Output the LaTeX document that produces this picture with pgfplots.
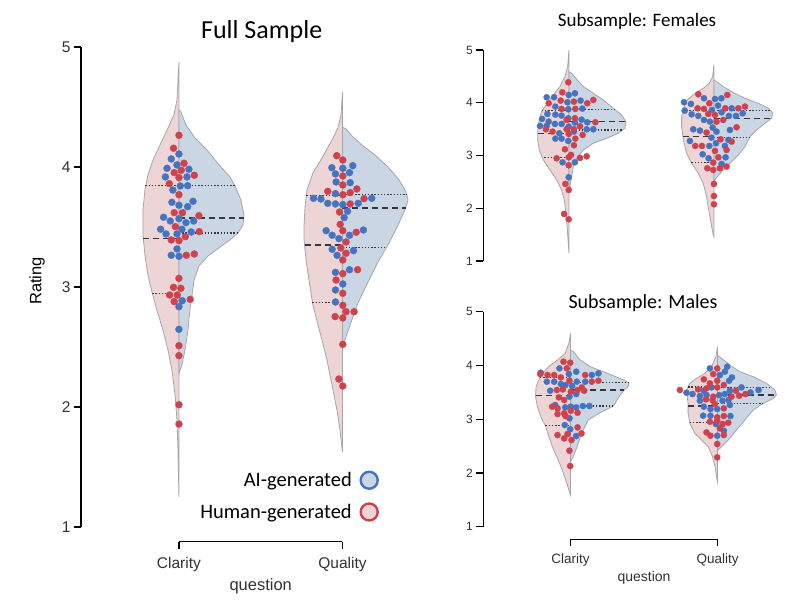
\documentclass[border=0pt]{standalone}
\usepackage{pgfplots}
\pgfplotsset{compat=1.18}
\usepackage{fontspec}
\setmainfont{Liberation Sans}
\newfontfamily\calibri{Carlito}
\definecolor{vblue}{RGB}{202,214,228}
\definecolor{vred}{RGB}{237,212,213}
\definecolor{vline}{RGB}{165,165,172}
\definecolor{dblue}{RGB}{70,115,192}
\definecolor{dred}{RGB}{207,66,77}
\definecolor{qcol}{RGB}{55,55,55}
\definecolor{labgray}{RGB}{50,50,50}
\pgfplotsset{
  vaxis/.style={scale only axis, clip=false, axis line style={draw=none},
    tick align=outside, major tick length=7pt, tick style={black,line width=1.2pt},
    ytick={1,2,3,4,5}, xtick pos=bottom, ytick pos=left,
    /pgf/number format/assume math mode=true},
  vb/.style={fill=vblue, draw=vline, line width=0.8pt, forget plot},
  vr/.style={fill=vred, draw=vline, line width=0.8pt, forget plot},
  qd/.style={draw=qcol, line width=1.1pt, dash pattern=on 1.4pt off 1.8pt, forget plot},
  qm/.style={draw=qcol, line width=1.1pt, dash pattern=on 6pt off 4pt, forget plot},
  db/.style={only marks, mark=*, mark size=#1, mark options={fill=dblue, draw=dblue, line width=0.3pt}, forget plot},
  dr/.style={only marks, mark=*, mark size=#1, mark options={fill=dred, draw=dred, line width=0.3pt}, forget plot},
}
\begin{document}
\begin{tikzpicture}
\path[use as bounding box] (0,0) rectangle (800pt,606pt);
% ================= FULL SAMPLE =================
\begin{axis}[vaxis, at={(81pt,64.3pt)}, anchor=south west, width=339pt, height=501.7pt,
  xmin=-0.599, xmax=1.474, ymin=0.8775, ymax=5.058,
  xtick={0,1}, xticklabels={Clarity,Quality},
  tick label style={font=\fontsize{15.5}{16}\selectfont, text=labgray},
  xticklabel style={yshift=-5pt},
  legend plot pos=right,
  legend cell align=right,
  legend style={draw=none, fill=none, at={(axis cs:1.235,1.49)}, anchor=north east,
    font=\calibri\fontsize{20.5}{22}\selectfont, row sep=12pt,
    /tikz/every odd column/.append style={column sep=7pt}}]
% Clarity violins
\addplot[vr] coordinates {(0,4.875) (-0.012,4.558) (-0.031,4.433) (-0.067,4.325) (-0.116,4.183) (-0.159,4.058) (-0.190,3.933) (-0.208,3.808) (-0.220,3.642) (-0.220,3.433) (-0.208,3.267) (-0.190,3.100) (-0.165,2.958) (-0.135,2.808) (-0.098,2.642) (-0.067,2.475) (-0.043,2.308) (-0.024,2.100) (-0.012,1.892) (-0.006,1.642) (0,1.250)} -- cycle;
\addplot[vb] coordinates {(0,4.475) (0.012,4.458) (0.043,4.350) (0.098,4.242) (0.171,4.142) (0.251,4.008) (0.312,3.917) (0.343,3.842) (0.379,3.725) (0.398,3.600) (0.391,3.517) (0.361,3.450) (0.312,3.392) (0.251,3.333) (0.177,3.258) (0.122,3.175) (0.092,3.058) (0.080,2.933) (0.067,2.808) (0.055,2.642) (0.037,2.475) (0.018,2.350) (0,2.283)} -- cycle;
% Quality violins
\addplot[vr] coordinates {(1,4.625) (0.991,4.433) (0.972,4.325) (0.936,4.225) (0.875,4.075) (0.819,3.950) (0.783,3.808) (0.771,3.667) (0.765,3.517) (0.765,3.392) (0.777,3.225) (0.795,3.058) (0.819,2.850) (0.850,2.683) (0.875,2.558) (0.905,2.392) (0.936,2.183) (0.966,1.975) (0.985,1.808) (1,1.625)} -- cycle;
\addplot[vb] coordinates {(1,4.333) (1.021,4.317) (1.064,4.250) (1.119,4.183) (1.199,4.100) (1.278,4.000) (1.346,3.892) (1.388,3.792) (1.401,3.725) (1.382,3.642) (1.340,3.517) (1.278,3.350) (1.217,3.208) (1.156,3.042) (1.095,2.867) (1.046,2.683) (1.015,2.558) (1,2.500)} -- cycle;
% quartiles
\addplot[qd] coordinates {(-0.205,3.842) (0,3.842)};
\addplot[qm] coordinates {(-0.219,3.404) (0,3.404)};
\addplot[qd] coordinates {(-0.164,2.947) (0,2.947)};
\addplot[qd] coordinates {(0,3.842) (0.343,3.842)};
\addplot[qm] coordinates {(0,3.575) (0.398,3.575)};
\addplot[qd] coordinates {(0,3.450) (0.360,3.450)};
\addplot[qd] coordinates {(0.779,3.761) (1,3.761)};
\addplot[qm] coordinates {(0.768,3.350) (1,3.350)};
\addplot[qd] coordinates {(0.816,2.872) (1,2.872)};
\addplot[qd] coordinates {(1,3.767) (1.393,3.767)};
\addplot[qm] coordinates {(1,3.658) (1.386,3.658)};
\addplot[qd] coordinates {(1,3.331) (1.270,3.331)};
% dots
\addplot[db=3.5pt] coordinates {(0,4.108) (-0.047,4.067) (-0.012,4.017) (-0.073,3.989) (0.061,3.981) (-0.083,3.917) (0.049,3.917) (0.008,3.842) (0.053,3.844) (-0.037,3.808) (-0.043,3.706) (0,3.681) (0.053,3.669) (0.086,3.714) (-0.094,3.581) (-0.053,3.550) (0,3.569) (0.043,3.536) (0.090,3.550) (-0.112,3.481) (0.018,3.481) (-0.079,3.442) (-0.012,3.442) (0.075,3.458) (-0.012,3.317) (-0.047,3.264) (0,3.256) (0.020,2.886) (0,2.836) (0,2.647)};
\addplot[dr=3.5pt] coordinates {(0,4.264) (-0.033,4.156) (0.031,4.031) (0.014,3.972) (-0.029,3.953) (0,3.911) (0.094,3.931) (-0.059,3.861) (0,3.769) (-0.029,3.619) (0.022,3.619) (0.122,3.594) (-0.022,3.503) (0.124,3.461) (-0.047,3.392) (0,3.386) (0.039,3.419) (0.045,3.264) (0.094,3.275) (0,3.072) (-0.033,2.997) (0.012,2.989) (-0.057,2.933) (-0.010,2.933) (-0.029,2.878) (0.069,2.897) (0,2.511) (0,2.428) (0,2.019) (0,1.858)};
\addplot[db=3.5pt] coordinates {(0.935,3.994) (1.002,3.989) (1.063,4.011) (0.957,3.942) (1.043,3.953) (0.961,3.875) (1.047,3.869) (0.957,3.778) (0.823,3.739) (0.868,3.733) (0.910,3.697) (0.957,3.692) (1.002,3.686) (1.096,3.697) (1.179,3.739) (1.031,3.631) (1.010,3.578) (0.900,3.469) (0.937,3.431) (0.978,3.403) (1.043,3.431) (1.128,3.475) (0.937,3.314) (1.067,3.303) (0.967,3.264) (0.957,3.122) (1.043,3.144) (1.002,3.025) (0.957,2.975) (0.957,2.875)};
\addplot[dr=3.5pt] coordinates {(0.965,4.094) (1.002,4.058) (1.002,3.925) (1.002,3.850) (0.910,3.797) (1.002,3.769) (1.047,3.786) (1.088,3.817) (1.047,3.692) (1.132,3.736) (0.982,3.625) (0.986,3.522) (1.002,3.469) (1.084,3.456) (1.022,3.375) (0.990,3.325) (1.022,3.281) (1.002,3.225) (1.002,3.111) (1.092,3.144) (0.961,3.058) (1.002,2.947) (1.002,2.847) (1.022,2.794) (1.071,2.794) (0.955,2.753) (1.002,2.742) (1.002,2.522) (0.978,2.233) (1.002,2.175)};
% legend
\addlegendimage{only marks, mark=*, mark size=8.5pt, mark options={fill=vblue, draw=dblue, line width=2.4pt}}
\addlegendentry{AI-generated}
\addlegendimage{only marks, mark=*, mark size=8.5pt, mark options={fill=vred, draw=dred, line width=2.4pt}}
\addlegendentry{Human-generated}
% spines
\draw[black, line width=1.3pt] (axis cs:-0.599,1) -- (axis cs:-0.599,5);
\draw[black, line width=1.3pt] (axis cs:0,0.8775) -- (axis cs:1,0.8775);
\node[rotate=90, font=\fontsize{16.5}{17}\selectfont, text=black] at ([xshift=-44pt]axis cs:-0.599,3.05) {Rating};
\node[font=\fontsize{16.5}{17}\selectfont, text=labgray] at ([yshift=-45pt]axis cs:0.5,0.8775) {question};
\end{axis}
\node[font=\calibri\fontsize{26}{28}\selectfont] at (261.7pt,574.3pt) {Full Sample};
% ================= FEMALES =================
\begin{axis}[vaxis, at={(483.3pt,342.4pt)}, anchor=south west, width=311.7pt, height=216.3pt,
  xmin=-0.591, xmax=1.559, ymin=0.95, ymax=5.05, xtick=\empty,
  tick label style={font=\fontsize{12}{12}\selectfont, text=labgray}]
\addplot[vr] coordinates {(0,5.000) (-0.009,4.684) (-0.028,4.494) (-0.062,4.305) (-0.108,4.147) (-0.149,3.989) (-0.189,3.831) (-0.207,3.641) (-0.216,3.452) (-0.216,3.294) (-0.205,3.104) (-0.177,2.915) (-0.131,2.725) (-0.085,2.536) (-0.051,2.346) (-0.032,2.156) (-0.021,1.904) (-0.011,1.588) (-0.005,1.335) (0,1.145)} -- cycle;
\addplot[vb] coordinates {(0,4.589) (0.018,4.558) (0.053,4.444) (0.099,4.305) (0.168,4.178) (0.237,4.052) (0.306,3.894) (0.363,3.768) (0.393,3.641) (0.386,3.515) (0.340,3.420) (0.260,3.325) (0.168,3.231) (0.099,3.104) (0.053,2.946) (0.030,2.788) (0.018,2.599) (0.007,2.409) (0,2.314)} -- cycle;
\addplot[vr] coordinates {(1,4.716) (0.991,4.494) (0.968,4.368) (0.926,4.273) (0.869,4.178) (0.816,4.052) (0.789,3.894) (0.777,3.736) (0.777,3.547) (0.789,3.294) (0.811,3.041) (0.846,2.852) (0.892,2.662) (0.926,2.472) (0.949,2.220) (0.968,1.904) (0.984,1.651) (0.995,1.493) (1,1.461)} -- cycle;
\addplot[vb] coordinates {(1,4.431) (1.018,4.400) (1.064,4.305) (1.133,4.191) (1.214,4.084) (1.306,3.989) (1.375,3.894) (1.405,3.812) (1.398,3.705) (1.352,3.610) (1.294,3.483) (1.248,3.357) (1.214,3.167) (1.168,3.009) (1.110,2.851) (1.064,2.725) (1.023,2.599) (1.007,2.536) (1,2.504)} -- cycle;
\addplot[qd] coordinates {(-0.187,3.850) (0,3.850)};
\addplot[qm] coordinates {(-0.216,3.408) (0,3.408)};
\addplot[qd] coordinates {(-0.170,2.965) (0,2.965)};
\addplot[qd] coordinates {(0,3.863) (0.320,3.863)};
\addplot[qm] coordinates {(0,3.635) (0.392,3.635)};
\addplot[qd] coordinates {(0,3.483) (0.370,3.483)};
\addplot[qd] coordinates {(0.786,3.849) (1,3.849)};
\addplot[qm] coordinates {(0.786,3.356) (1,3.356)};
\addplot[qd] coordinates {(0.844,2.864) (1,2.864)};
\addplot[qd] coordinates {(1,3.844) (1.393,3.844)};
\addplot[qm] coordinates {(1,3.692) (1.392,3.692)};
\addplot[qd] coordinates {(1,3.338) (1.245,3.338)};
\addplot[db=3.1pt] coordinates {(-0.002,4.147) (0.041,4.178) (-0.154,4.103) (-0.103,4.103) (-0.011,4.008) (0.080,4.039) (-0.094,3.926) (-0.005,3.875) (0.092,3.888) (-0.149,3.787) (-0.094,3.774) (-0.051,3.755) (-0.005,3.705) (-0.186,3.692) (-0.140,3.641) (-0.097,3.597) (-0.051,3.597) (0.041,3.622) (0.087,3.679) (0.126,3.629) (-0.200,3.559) (-0.154,3.559) (-0.002,3.547) (-0.067,3.420) (0.034,3.452) (0.122,3.496) (0.168,3.496) (-0.094,3.319) (-0.051,3.319) (-0.005,3.275) (-0.044,2.870) (0.041,2.870) (-0.002,2.586)};
\addplot[dr=3.1pt] coordinates {(-0.005,4.387) (-0.046,4.197) (-0.057,4.039) (0.034,4.020) (0.126,3.989) (0.168,4.052) (-0.140,3.989) (-0.051,3.882) (0.044,3.882) (0.041,3.705) (-0.016,3.674) (0.182,3.629) (-0.016,3.496) (0.034,3.496) (0.076,3.553) (-0.159,3.496) (-0.113,3.452) (-0.002,3.408) (0.044,3.319) (0.094,3.389) (-0.028,3.117) (0.034,3.193) (0.014,3.009) (-0.085,2.946) (-0.002,2.965) (0.076,2.953) (0.122,2.984) (-0.002,2.814) (-0.025,2.460) (-0.002,2.346) (-0.034,1.891) (-0.002,1.790)};
\addplot[db=3.1pt] coordinates {(0.931,4.084) (1.007,4.071) (1.051,4.084) (0.793,4.008) (0.841,3.976) (0.986,3.863) (1.028,3.945) (1.122,3.894) (0.798,3.850) (0.846,3.780) (0.892,3.749) (1.053,3.818) (1.103,3.749) (1.152,3.749) (1.198,3.799) (0.931,3.673) (0.972,3.641) (0.991,3.528) (0.857,3.496) (0.903,3.471) (1.018,3.452) (1.110,3.483) (0.982,3.338) (1.099,3.294) (0.834,3.275) (0.968,3.180) (1.014,3.231) (1.076,3.180) (0.922,3.022) (0.963,2.946) (1.080,2.965) (1.053,2.839)};
\addplot[dr=3.1pt] coordinates {(0.892,4.160) (0.968,3.989) (1.092,4.147) (0.887,3.894) (0.931,3.882) (1.078,3.894) (1.168,3.894) (1.214,3.926) (0.961,3.787) (1.007,3.768) (1.018,3.641) (1.064,3.673) (0.949,3.433) (1.156,3.534) (1.046,3.307) (1.122,3.262) (0.871,3.180) (0.917,3.180) (1.007,3.085) (1.087,3.104) (1.030,2.965) (0.995,2.864) (0.954,2.757) (0.995,2.725) (1.041,2.757) (1.087,2.788) (1,2.460) (1,2.232) (1,2.074)};
\draw[black, line width=1.3pt] (axis cs:-0.591,1) -- (axis cs:-0.591,5);
\end{axis}
\node[font=\calibri\fontsize{19}{21}\selectfont] at (637pt,585pt) {Subsample: Females};
% ================= MALES =================
\begin{axis}[vaxis, at={(483.3pt,66.7pt)}, anchor=south west, width=311.7pt, height=230.3pt,
  xmin=-0.593, xmax=1.527, ymin=0.766, ymax=5.05,
  xtick={0,1}, xticklabels={Clarity,Quality},
  yticklabel style={font=\fontsize{12}{12}\selectfont, text=labgray},
  xticklabel style={font=\fontsize{13.5}{14}\selectfont, text=labgray, yshift=-4pt}]
\addplot[vr] coordinates {(0,4.597) (-0.011,4.411) (-0.036,4.225) (-0.088,4.101) (-0.150,3.977) (-0.206,3.791) (-0.234,3.605) (-0.238,3.419) (-0.225,3.233) (-0.195,3.0) (-0.170,2.879) (-0.150,2.70) (-0.125,2.50) (-0.093,2.30) (-0.055,2.05) (-0.025,1.806) (-0.011,1.682) (0,1.589)} -- cycle;
\addplot[vb] coordinates {(0,4.287) (0.020,4.256) (0.066,4.101) (0.134,3.977) (0.224,3.884) (0.300,3.80) (0.370,3.72) (0.398,3.67) (0.390,3.60) (0.365,3.543) (0.330,3.42) (0.293,3.245) (0.200,3.12) (0.120,2.984) (0.075,2.736) (0.045,2.488) (0.018,2.302) (0,2.209)} -- cycle;
\addplot[vr] coordinates {(1,4.349) (0.989,4.163) (0.959,3.977) (0.914,3.853) (0.857,3.760) (0.812,3.667) (0.789,3.543) (0.794,3.419) (0.800,3.295) (0.800,3.109) (0.812,2.922) (0.846,2.736) (0.891,2.612) (0.937,2.488) (0.966,2.302) (0.984,2.116) (0.993,1.930) (1,1.837)} -- cycle;
\addplot[vb] coordinates {(1,4.194) (1.027,4.132) (1.084,4.008) (1.152,3.884) (1.243,3.791) (1.333,3.667) (1.390,3.543) (1.401,3.450) (1.379,3.388) (1.311,3.295) (1.243,3.171) (1.186,2.984) (1.129,2.798) (1.073,2.612) (1.027,2.488) (1.005,2.426) (1,2.414)} -- cycle;
\addplot[qd] coordinates {(-0.207,3.778) (0,3.778)};
\addplot[qm] coordinates {(-0.237,3.443) (0,3.443)};
\addplot[qd] coordinates {(-0.170,2.879) (0,2.879)};
\addplot[qd] coordinates {(0,3.679) (0.395,3.679)};
\addplot[qm] coordinates {(0,3.543) (0.365,3.543)};
\addplot[qd] coordinates {(0,3.245) (0.293,3.245)};
\addplot[qd] coordinates {(0.800,3.600) (1,3.600)};
\addplot[qm] coordinates {(0.800,3.245) (1,3.245)};
\addplot[qd] coordinates {(0.811,2.935) (1,2.935)};
\addplot[qd] coordinates {(1,3.592) (1.367,3.592)};
\addplot[qm] coordinates {(1,3.450) (1.401,3.450)};
\addplot[qd] coordinates {(1,3.295) (1.311,3.295)};
\addplot[db=3.1pt] coordinates {(-0.075,3.946) (-0.202,3.865) (-0.011,3.840) (0.039,3.884) (0.145,3.822) (0.190,3.853) (-0.161,3.698) (-0.111,3.698) (-0.066,3.654) (0.043,3.698) (0.100,3.698) (-0.034,3.636) (0.011,3.617) (-0.138,3.530) (-0.007,3.419) (0.039,3.468) (-0.104,3.264) (-0.036,3.220) (0.002,3.233) (0.039,3.220) (0.084,3.245) (0.129,3.245) (-0.007,3.016) (-0.039,2.891) (-0.002,2.811) (0.039,2.687)};
\addplot[dr=3.1pt] coordinates {(-0.048,4.070) (-0.002,4.051) (-0.025,3.946) (-0.206,3.840) (-0.156,3.822) (-0.111,3.822) (-0.066,3.778) (0.100,3.822) (-0.007,3.716) (0.145,3.698) (0.190,3.716) (0.077,3.592) (-0.093,3.543) (-0.052,3.555) (0.002,3.512) (0.048,3.543) (0.093,3.530) (-0.079,3.406) (-0.043,3.357) (-0.125,3.233) (-0.088,3.202) (0.002,3.158) (-0.043,3.109) (0.048,3.121) (-0.088,3.096) (-0.034,3.059) (0.048,2.848) (-0.088,2.705) (-0.043,2.643) (-0.020,2.724) (0.007,2.612) (0.075,2.736) (-0.007,2.414) (-0.002,2.129)};
\addplot[db=3.1pt] coordinates {(0.948,3.946) (1.066,3.977) (1.016,3.822) (1.050,3.884) (1.098,3.778) (1.079,3.716) (0.959,3.592) (1.163,3.592) (1.224,3.499) (1.279,3.543) (0.789,3.493) (0.830,3.468) (0.907,3.530) (0.880,3.431) (0.925,3.450) (1.011,3.450) (1.050,3.468) (1.084,3.530) (0.880,3.344) (1.034,3.344) (1.075,3.357) (0.907,3.233) (0.952,3.189) (0.998,3.189) (1.084,3.264) (0.902,3.065) (0.952,3.065) (1.088,3.059) (0.989,2.910) (1.043,2.786) (0.998,2.693)};
\addplot[dr=3.1pt] coordinates {(0.998,3.946) (0.971,3.840) (0.907,3.741) (0.948,3.667) (0.998,3.716) (0.925,3.574) (0.998,3.592) (1.043,3.636) (1.125,3.530) (0.744,3.543) (0.868,3.555) (0.971,3.419) (1.095,3.419) (1.147,3.437) (1.190,3.468) (0.921,3.369) (0.966,3.357) (1.043,3.202) (0.980,3.282) (0.998,3.034) (1.043,3.059) (0.948,2.953) (0.998,2.972) (1.034,2.910) (1.073,2.935) (1.016,2.829) (0.925,2.755) (0.952,2.693) (1.043,2.705) (0.998,2.538) (0.998,2.290)};
\draw[black, line width=1.3pt] (axis cs:-0.593,1) -- (axis cs:-0.593,5);
\draw[black, line width=1.3pt] (axis cs:0,0.766) -- (axis cs:1,0.766);
\node[font=\fontsize{14}{15}\selectfont, text=labgray] at ([yshift=-39pt]axis cs:0.5,0.766) {question};
\end{axis}
\node[font=\calibri\fontsize{20}{22}\selectfont] at (643pt,303pt) {Subsample: Males};
\end{tikzpicture}
\end{document}
